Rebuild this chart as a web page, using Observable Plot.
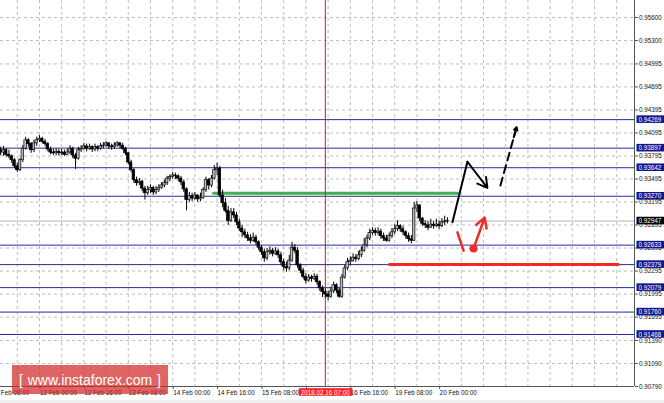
<!DOCTYPE html>
<html><head><meta charset="utf-8">
<script src="https://cdn.jsdelivr.net/npm/d3@7"></script>
<script src="https://cdn.jsdelivr.net/npm/@observablehq/plot@0.6"></script>
<style>
html,body{margin:0;padding:0;background:#fff;}
#wrap{position:relative;width:664px;height:403px;overflow:hidden;}
#strip{position:absolute;left:0;top:400px;width:664px;height:3px;background:#efefef;}
#wm{position:absolute;left:12px;top:365px;width:156px;height:29px;background:rgba(210,40,40,0.72);color:#fff;font-family:'Liberation Sans',Arial,sans-serif;font-size:14px;display:flex;align-items:center;justify-content:space-between;padding:0 7px;box-sizing:border-box;}
</style></head>
<body><div id="wrap"><div id="chart"></div><div id="strip"></div><div id="wm"><span>[</span><span>www.instaforex.com</span><span>]</span></div></div>
<script>
// ---- data ----
const firstHour = -14;          // trading-hour index of first candle (0 = 12 Feb 00:00)
const openFirst = 0.9387;
const closes = [
0.9384,0.9387,0.9381,0.9379,0.9374,0.9366,0.9361,0.9374,0.9389,0.9400,0.9395,0.9387,0.9396,0.9400,
0.9402,0.9398,0.9395,0.9388,0.9384,0.9383,0.9385,0.9383,0.9384,0.9381,
0.9384,0.9389,0.9380,0.9376,0.9387,0.9389,0.9392,0.9389,0.9391,0.9388,
0.9391,0.9389,0.9392,0.9393,0.9396,0.9392,0.9391,0.9393,0.9396,0.9393,
0.9389,0.9383,0.9371,0.9361,0.9348,0.9344,0.9346,0.9337,0.9331,0.9335,
0.9338,0.9332,0.9335,0.9338,0.9341,0.9344,0.9350,0.9352,0.9354,0.9353,
0.9350,0.9345,0.9336,0.9322,0.9327,0.9324,0.9328,0.9323,0.9325,0.9335,
0.9348,0.9341,0.9350,0.9361,0.9363,0.9328,0.9318,0.9308,0.9295,0.9306,
0.9302,0.9293,0.9285,0.9280,0.9276,0.9272,0.9269,0.9273,0.9267,0.9260,
0.9254,0.9246,0.9254,0.9256,0.9252,0.9255,0.9250,0.9241,0.9235,0.9233,
0.9243,0.9260,0.9256,0.9237,0.9230,0.9222,0.9217,0.9221,0.9219,0.9222,
0.9215,0.9207,0.9202,0.9199,0.9196,0.9203,0.9211,0.9204,0.9196,0.9221,
0.9233,0.9241,0.9243,0.9247,0.9245,0.9250,0.9256,0.9263,0.9272,0.9279,
0.9282,0.9279,0.9281,0.9275,0.9272,0.9269,0.9275,0.9280,0.9284,0.9288,
0.9284,0.9280,0.9275,0.9271,0.9269,0.9311,0.9315,0.9298,0.9291,0.9289,
0.9286,0.9290,0.9288,0.9290,0.9288,0.9293,0.9294,0.92947];
const highs = [
0.9391,0.9392,0.9389,0.9387,0.9381,0.9376,0.9370,0.9376,0.9393,0.9404,0.9402,0.9397,0.9400,0.9404,
0.9406,0.9404,0.9401,0.9397,0.9391,0.9388,0.9389,0.9388,0.9388,0.9387,
0.9388,0.9393,0.9391,0.9383,0.9391,0.9393,0.9396,0.9395,0.9395,0.9393,
0.9395,0.9393,0.9396,0.9397,0.9398,0.9397,0.9395,0.9397,0.9398,0.9397,
0.9396,0.9391,0.9384,0.9374,0.9363,0.9352,0.9350,0.9348,0.9340,0.9340,
0.9342,0.9340,0.9340,0.9342,0.9345,0.9348,0.9353,0.9355,0.9358,0.9357,
0.9355,0.9353,0.9348,0.9338,0.9332,0.9331,0.9332,0.9329,0.9331,0.9338,
0.9352,0.9350,0.9354,0.9367,0.9370,0.9366,0.9335,0.9324,0.9314,0.9311,
0.9311,0.9306,0.9297,0.9289,0.9284,0.9280,0.9277,0.9279,0.9276,0.9269,
0.9263,0.9258,0.9259,0.9261,0.9259,0.9260,0.9258,0.9254,0.9245,0.9241,
0.9250,0.9267,0.9264,0.9260,0.9239,0.9233,0.9226,0.9225,0.9224,0.9226,
0.9225,0.9217,0.9210,0.9206,0.9203,0.9207,0.9215,0.9213,0.9207,0.9225,
0.9237,0.9246,0.9248,0.9252,0.9251,0.9255,0.9261,0.9272,0.9276,0.9284,
0.9286,0.9285,0.9286,0.9284,0.9279,0.9276,0.9279,0.9285,0.9290,0.9295,
0.9290,0.9288,0.9282,0.9279,0.9276,0.9319,0.9320,0.9316,0.9299,0.9295,
0.9294,0.9297,0.9294,0.9297,0.9295,0.9298,0.9301,0.9299];
const lows = [
0.9380,0.9379,0.9378,0.9376,0.9370,0.9363,0.9358,0.9359,0.9371,0.9387,0.9391,0.9383,0.9384,0.9392,
0.9397,0.9395,0.9392,0.9385,0.9381,0.9380,0.9380,0.9379,0.9380,0.9379,
0.9380,0.9381,0.9376,0.9362,0.9374,0.9384,0.9387,0.9385,0.9387,0.9384,
0.9385,0.9385,0.9387,0.9389,0.9391,0.9388,0.9387,0.9388,0.9391,0.9389,
0.9387,0.9380,0.9368,0.9358,0.9344,0.9340,0.9341,0.9333,0.9322,0.9328,
0.9331,0.9328,0.9329,0.9332,0.9336,0.9338,0.9341,0.9346,0.9349,0.9349,
0.9346,0.9341,0.9332,0.9308,0.9319,0.9320,0.9322,0.9319,0.9320,0.9323,
0.9332,0.9335,0.9338,0.9348,0.9354,0.9325,0.9312,0.9305,0.9289,0.9293,
0.9298,0.9289,0.9281,0.9273,0.9272,0.9268,0.9265,0.9267,0.9263,0.9256,
0.9250,0.9241,0.9243,0.9250,0.9248,0.9250,0.9246,0.9237,0.9230,0.9228,
0.9230,0.9241,0.9252,0.9233,0.9226,0.9219,0.9213,0.9215,0.9215,0.9217,
0.9211,0.9203,0.9195,0.9194,0.9191,0.9194,0.9200,0.9200,0.9194,0.9194,
0.9219,0.9230,0.9237,0.9241,0.9241,0.9243,0.9247,0.9254,0.9260,0.9269,
0.9276,0.9275,0.9276,0.9271,0.9268,0.9267,0.9267,0.9272,0.9277,0.9281,
0.9280,0.9276,0.9271,0.9267,0.9265,0.9268,0.9306,0.9294,0.9288,0.9285,
0.9282,0.9285,0.9284,0.9286,0.9284,0.9286,0.9289,0.9291];

const yTicks = [0.95600,0.95300,0.94995,0.94695,0.94395,0.94095,0.93795,0.93495,0.93195,0.92895,0.92595,0.92295,0.91995,0.91695,0.91390,0.91090,0.90790];
const xLabelHours = [-16,0,16,32,48,64,80,96,112,128,144];
const xLabels = ["9 Feb 08:00","12 Feb 00:00","12 Feb 16:00","13 Feb 08:00","14 Feb 00:00","14 Feb 16:00","15 Feb 08:00","16 Feb 00:00","16 Feb 16:00","19 Feb 08:00","20 Feb 00:00"];
const levels = [0.94269,0.93897,0.93642,0.93270,0.92633,0.92379,0.92079,0.91760,0.91468];
const currentPrice = 0.92947;
const cursorHour = 103;
const cursorLabel = "2018.02.16 07:00";

const greenHours = [62.7,150.6], greenPrice = 0.9331;
const redHours = [126.1,208.6], redPrice = 0.92379;
const upPathHours = [148.8,154.2], upPathPrices = [0.9293,0.9372];
const pullbackHours = [154.2,161.4], pullbackPrices = [0.9372,0.9338];
const dashHours = [166.1,171.9], dashPrices = [0.9341,0.9417];
const dashHeadHours = [170.9,171.9], dashHeadPrices = [0.9404,0.9417];
const dipHours = [150.6,152.8], dipPrices = [0.9280,0.9256];
const dotHour = 156.4, dotPrice = 0.9259;
const reboundHours = [156.4,160.4], reboundPrices = [0.9259,0.9299];

const xDomain = [-14.05, 214.4];
const yDomain = [0.90790, 0.95822];

// ---- build ----
const candles = closes.map((c,k)=>({t:firstHour+k, o:k?closes[k-1]:openFirst, c, h:highs[k], l:lows[k]}));
const pts = (hs,ps)=>hs.map((h,k)=>({h, p:ps[k]}));
const seg = (hs,ps)=>[{x1:hs[0],y1:ps[0],x2:hs[1],y2:ps[1]}];
const fmt = d3.format(".5f");
const FS = 6.3;
const gridStyle = {stroke:"#bdbdbd", strokeOpacity:1, strokeDasharray:"3,3"};
const RED = "#ee2b2b";

const chart = Plot.plot({
  width:664, height:403,
  marginLeft:0, marginRight:30, marginTop:0, marginBottom:17,
  x:{domain:xDomain, axis:null},
  y:{domain:yDomain, axis:null},
  style:{fontFamily:"'Liberation Sans', Arial, sans-serif", fontSize:FS+"px", background:"white"},
  marks:[
    Plot.gridX(d3.range(-8, 214, 8), gridStyle),
    Plot.gridY(yTicks, gridStyle),
    Plot.ruleY(levels, {stroke:"#2a2a9a", strokeWidth:1}),
    Plot.ruleY([currentPrice], {stroke:"#b4b4b4"}),
    Plot.line(pts(greenHours,[greenPrice,greenPrice]), {x:"h", y:"p", stroke:"#3cb44e", strokeWidth:3}),
    Plot.line(pts(redHours,[redPrice,redPrice]), {x:"h", y:"p", stroke:RED, strokeWidth:3}),
    Plot.ruleX([cursorHour], {stroke:"#e01515"}),
    Plot.ruleX(candles, {x:"t", y1:"l", y2:"h", stroke:"#000", strokeWidth:1}),
    Plot.rect(candles.filter(d=>d.c>=d.o), {x1:d=>d.t-0.46, x2:d=>d.t+0.46, y1:"o", y2:"c", fill:"#b8b8b8", stroke:"#111", strokeWidth:0.7}),
    Plot.rect(candles.filter(d=>d.c<d.o), {x1:d=>d.t-0.46, x2:d=>d.t+0.46, y1:"o", y2:"c", fill:"#000", stroke:"#000", strokeWidth:0.7}),
    // scenario drawings
    Plot.line(pts(upPathHours,upPathPrices), {x:"h", y:"p", stroke:"#000", strokeWidth:2}),
    Plot.arrow(seg(pullbackHours,pullbackPrices), {x1:"x1",y1:"y1",x2:"x2",y2:"y2", stroke:"#000", strokeWidth:2, headLength:10}),
    Plot.line(pts(dashHours,dashPrices), {x:"h", y:"p", stroke:"#000", strokeWidth:2, strokeDasharray:"8,5"}),
    Plot.arrow(seg(dashHeadHours,dashHeadPrices), {x1:"x1",y1:"y1",x2:"x2",y2:"y2", stroke:"#000", strokeWidth:2, headLength:10}),
    Plot.line(pts(dipHours,dipPrices), {x:"h", y:"p", stroke:RED, strokeWidth:2.5}),
    Plot.arrow(seg(reboundHours,reboundPrices), {x1:"x1",y1:"y1",x2:"x2",y2:"y2", stroke:RED, strokeWidth:2.5, headLength:9}),
    Plot.dot([{h:dotHour,p:dotPrice}], {x:"h", y:"p", r:4, fill:RED}),
    // axes
    Plot.ruleY([yDomain[0]], {stroke:"#555"}),
    Plot.ruleX([xDomain[1]], {stroke:"#555"}),
    Plot.axisY({ticks:yTicks, anchor:"right", tickFormat:fmt, tickSize:3, tickPadding:1.5, label:null, fontSize:FS, fill:"#111", stroke:"#555"}),
    Plot.axisX({ticks:xLabelHours, anchor:"bottom", tickFormat:d=>xLabels[xLabelHours.indexOf(d)], tickSize:3, tickPadding:1, textAnchor:"start", dx:0.5, label:null, fontSize:FS, fill:"#111", stroke:"#555"}),
    Plot.text(levels, {y:d=>d, frameAnchor:"right", textAnchor:"start", dx:4, text:d=>fmt(d), fill:"#fff", fontSize:FS}),
    Plot.text([currentPrice], {y:d=>d, frameAnchor:"right", textAnchor:"start", dx:4, text:d=>fmt(d), fill:"#fff", fontSize:FS}),
    Plot.text([cursorHour], {x:d=>d, frameAnchor:"bottom", dy:8, text:()=>cursorLabel, fill:"#fff", fontSize:FS})
  ]
});
document.getElementById("chart").appendChild(chart);

// label backgrounds
const levelSet = new Set(levels.map(fmt));
const curStr = fmt(currentPrice);
d3.select(chart).selectAll("text").each(function(){
  const t = this.textContent;
  let fill = null, padL = 2, padR = 3;
  if (levelSet.has(t) && this.getAttribute("fill")!=="#111") fill = "#14148c";
  else if (t===curStr && this.getAttribute("fill")!=="#111") fill = "#000";
  else if (t===cursorLabel) { fill = "#ff1e1e"; padL = 2; padR = 2; }
  if (!fill) return;
  const b = this.getBBox();
  const r = document.createElementNS("http://www.w3.org/2000/svg","rect");
  r.setAttribute("x", b.x-padL); r.setAttribute("y", b.y-0.3);
  r.setAttribute("width", b.width+padL+padR); r.setAttribute("height", b.height+0.6);
  r.setAttribute("fill", fill);
  const tr = this.getAttribute("transform"); if (tr) r.setAttribute("transform", tr);
  this.parentNode.insertBefore(r, this);
});
</script></body></html>
